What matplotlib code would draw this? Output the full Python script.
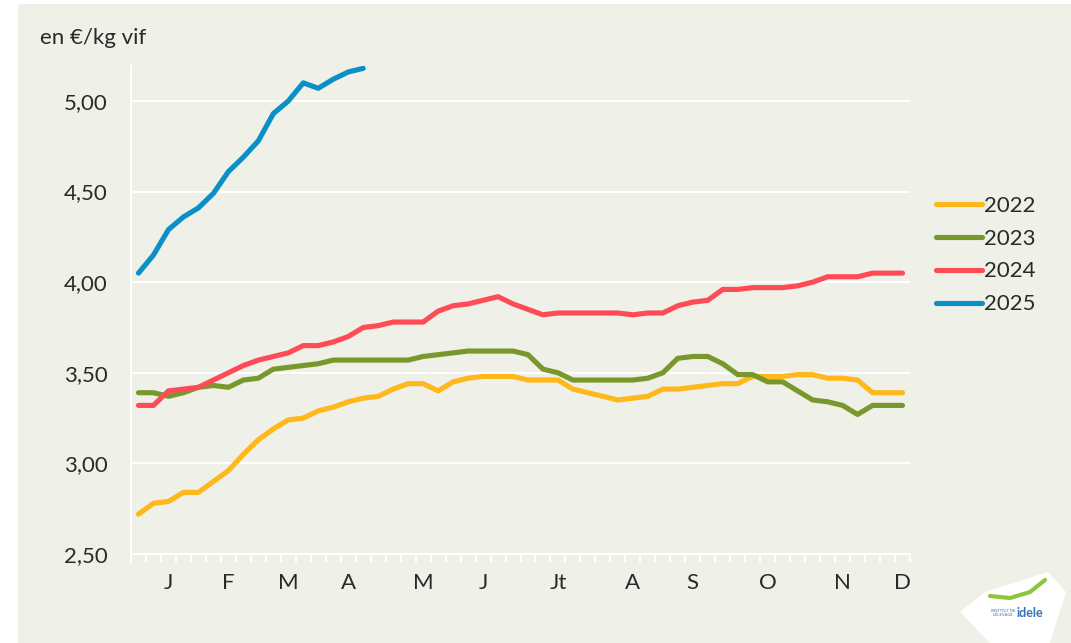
import matplotlib
matplotlib.use("Agg")
import matplotlib.pyplot as plt
from matplotlib.patches import Rectangle, Polygon
from matplotlib.lines import Line2D
from matplotlib.ticker import FuncFormatter
import numpy as np

plt.rcParams['font.family'] = ['Lato', 'DejaVu Sans']

# weekly prices, en €/kg vif
weeks = np.arange(52)
p2022 = [2.72, 2.78, 2.79, 2.84, 2.84, 2.90, 2.96, 3.05, 3.13, 3.19,
         3.24, 3.25, 3.29, 3.31, 3.34, 3.36, 3.37, 3.41, 3.44, 3.44,
         3.40, 3.45, 3.47, 3.48, 3.48, 3.48, 3.46, 3.46, 3.46, 3.41,
         3.39, 3.37, 3.35, 3.36, 3.37, 3.41, 3.41, 3.42, 3.43, 3.44,
         3.44, 3.48, 3.48, 3.48, 3.49, 3.49, 3.47, 3.47, 3.46, 3.39,
         3.39, 3.39]
p2023 = [3.39, 3.39, 3.37, 3.39, 3.42, 3.43, 3.42, 3.46, 3.47, 3.52,
         3.53, 3.54, 3.55, 3.57, 3.57, 3.57, 3.57, 3.57, 3.57, 3.59,
         3.60, 3.61, 3.62, 3.62, 3.62, 3.62, 3.60, 3.52, 3.50, 3.46,
         3.46, 3.46, 3.46, 3.46, 3.47, 3.50, 3.58, 3.59, 3.59, 3.55,
         3.49, 3.49, 3.45, 3.45, 3.40, 3.35, 3.34, 3.32, 3.27, 3.32,
         3.32, 3.32]
p2024 = [3.32, 3.32, 3.40, 3.41, 3.42, 3.46, 3.50, 3.54, 3.57, 3.59,
         3.61, 3.65, 3.65, 3.67, 3.70, 3.75, 3.76, 3.78, 3.78, 3.78,
         3.84, 3.87, 3.88, 3.90, 3.92, 3.88, 3.85, 3.82, 3.83, 3.83,
         3.83, 3.83, 3.83, 3.82, 3.83, 3.83, 3.87, 3.89, 3.90, 3.96,
         3.96, 3.97, 3.97, 3.97, 3.98, 4.00, 4.03, 4.03, 4.03, 4.05,
         4.05, 4.05]
p2025 = [4.05, 4.15, 4.29, 4.36, 4.41, 4.49, 4.61, 4.69, 4.78, 4.93,
         5.00, 5.10, 5.07, 5.12, 5.16, 5.18]

series = [("2022", p2022, "#ffb81c"),
          ("2023", p2023, "#79982c"),
          ("2024", p2024, "#ff4b55"),
          ("2025", p2025, "#0a8fc6")]

month_pos = [2, 6, 10, 14, 19, 23, 28, 33, 37, 42, 47, 51]
month_lab = ["J", "F", "M", "A", "M", "J", "Jt", "A", "S", "O", "N", "D"]

bg = "#eff0e7"
txt = "#2a2a2a"
fs = 16

fig = plt.figure(figsize=(10.71, 6.43), dpi=100)
fig.patch.set_facecolor("white")
fig.patches.append(Rectangle((18 / 1071, 0), 1 - 18 / 1071, 1 - 4 / 643,
                             transform=fig.transFigure, facecolor=bg,
                             edgecolor="none", zorder=-10))

ax = fig.add_axes([131 / 1071, 1 - 554 / 643, 779 / 1071, 488 / 643])
ax.set_facecolor(bg)

for name, vals, col in series:
    ax.plot(weeks[:len(vals)], vals, color=col, lw=3.7,
            solid_capstyle="round", solid_joinstyle="round", label=name)

ax.set_xlim(-0.5, 51.5)
ax.set_ylim(2.5, 5.193)
ax.set_yticks([2.5, 3.0, 3.5, 4.0, 4.5, 5.0])
ax.yaxis.set_major_formatter(FuncFormatter(lambda v, p: f"{v:.2f}".replace(".", ",")))
ax.yaxis.grid(True, color="white", lw=1.5)
ax.set_axisbelow(True)

ax.set_xticks(month_pos)
ax.set_xticklabels(month_lab)
ax.set_xticks(np.arange(-0.5, 52, 1), minor=True)
ax.tick_params(axis="x", which="major", length=0, pad=14, labelsize=fs, labelcolor=txt)
ax.tick_params(axis="x", which="minor", length=6, width=1.5, color="white", direction="out")
ax.tick_params(axis="y", length=0, pad=17, labelsize=fs, labelcolor=txt)

for s in ["top", "right"]:
    ax.spines[s].set_visible(False)
for s in ["left", "bottom"]:
    ax.spines[s].set_color("white")
    ax.spines[s].set_linewidth(1.5)
ax.spines["left"].set_bounds(2.5 - 0.045, 5.193)

fig.text(40 / 1071, 1 - 38 / 643, "en €/kg vif", fontsize=fs, color=txt,
         ha="left", va="center")

ax.legend(loc="center left", bbox_to_anchor=(936 / 1071, 1 - 255 / 643),
          bbox_transform=fig.transFigure, frameon=False, fontsize=fs,
          handlelength=2.05, handletextpad=0.12, labelspacing=0.58,
          borderpad=0, borderaxespad=0, labelcolor=txt)

# idele logo badge
badge = Polygon([[960 / 1071, 1 - 612 / 643], [985 / 1071, 1 - 592 / 643],
                 [1048 / 1071, 1 - 572 / 643], [1066 / 1071, 1 - 592 / 643],
                 [1050 / 1071, 1 - 643 / 643], [990 / 1071, 1 - 643 / 643]],
                closed=True, transform=fig.transFigure, facecolor="white",
                edgecolor="none")
fig.patches.append(badge)
swoosh = Line2D([990 / 1071, 1010 / 1071, 1030 / 1071, 1045 / 1071],
                [1 - 596 / 643, 1 - 598 / 643, 1 - 592 / 643, 1 - 580 / 643],
                transform=fig.transFigure, color="#8cc63f", lw=3,
                solid_capstyle="round")
fig.lines.append(swoosh)
fig.text(1030 / 1071, 1 - 613 / 643, "idele", fontsize=9, fontweight="bold",
         color="#3a6fb5", ha="center", va="center")
fig.text(1003 / 1071, 1 - 613 / 643, "INSTITUT DE\nL'ÉLEVAGE", fontsize=3,
         color="#3a6fb5", ha="center", va="center")

fig.savefig("out.png", dpi=100, facecolor=fig.get_facecolor())
